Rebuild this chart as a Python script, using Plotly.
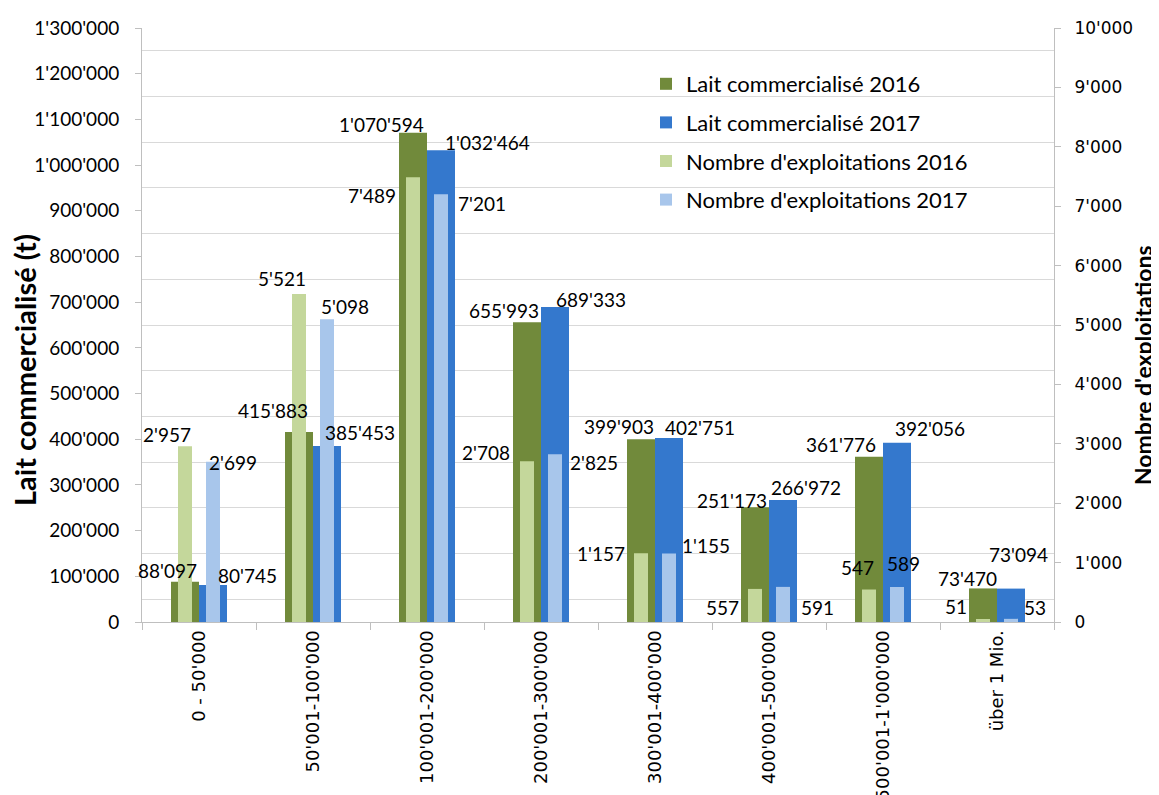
import plotly.graph_objects as go

categories = ["0 - 50'000", "50'001-100'000", "100'001-200'000", "200'001-300'000",
              "300'001-400'000", "400'001-500'000", "500'001-1'000'000", "über 1 Mio."]
milk_2016 = [88097, 415883, 1070594, 655993, 399903, 251173, 361776, 73470]
milk_2017 = [80745, 385453, 1032464, 689333, 402751, 266972, 392056, 73094]
farms_2016 = [2957, 5521, 7489, 2708, 1157, 557, 547, 51]
farms_2017 = [2699, 5098, 7201, 2825, 1155, 591, 589, 53]

names = ["Lait commercialisé 2016", "Lait commercialisé 2017",
         "Nombre d'exploitations 2016", "Nombre d'exploitations 2017"]

# style
C_DG, C_DB, C_LG, C_LB = "#718A3B", "#3478CD", "#C4D79B", "#A8C6EB"
W_D, W_L = 0.2456, 0.1228
LBL_FONT = dict(family="Lato", size=19, color="#000000")

# page offset (browser body margin)
OX, OY = 7, 8
# plot area in screen pixels
PL, PR, PT, PB = 141, 1053, 28, 622
FW, FH = 1159 - 8, 795 - 8

def px(xs):
    return (xs - PL) / (PR - PL)

def py(ys):
    return (PB - ys) / (PB - PT)

# label offsets (pixels) relative to bar centre / bar top
off_m16 = [(-17.5, -11.7), (-26.5, -21), (-32, -8.7), (-23.5, -12), (-22.5, -13), (-23, -7), (-28, -12.7), (-15.5, -10)]
off_m17 = [(34, -10), (32.5, -13), (46, -8), (35.5, -8), (31, -10), (23, -13), (32.5, -14), (7.5, -34.6)]
off_f16 = [(-18, -12), (-17.5, -16), (-41.5, 18), (-41.5, -9), (-40.5, 0.7), (-33, 19), (-12, -22.5), (-27, -12)]
off_f17 = [(20, 1), (18, -13), (41, 9), (38.5, 8), (36.5, -7.4), (34.5, 21), (6.5, -24), (23.5, -11)]

fig = go.Figure()
fig.add_trace(go.Bar(x=categories, y=milk_2016, name=names[0], marker=dict(color=C_DG, line=dict(width=0)),
                     width=W_D, offset=-W_D, yaxis="y", legendgroup="a"))
fig.add_trace(go.Bar(x=categories, y=milk_2017, name=names[1], marker=dict(color=C_DB, line=dict(width=0)),
                     width=W_D, offset=0, yaxis="y", legendgroup="b"))
fig.add_trace(go.Bar(x=categories, y=farms_2016, name=names[2], marker=dict(color=C_LG, line=dict(width=0)),
                     width=W_L, offset=-W_D + (W_D - W_L) / 2, yaxis="y2", legendgroup="c"))
fig.add_trace(go.Bar(x=categories, y=farms_2017, name=names[3], marker=dict(color=C_LB, line=dict(width=0)),
                     width=W_L, offset=(W_D - W_L) / 2, yaxis="y2", legendgroup="d"))

def fmt(v):
    return f"{v:,}".replace(",", "'")

anns = []
for vals, offs, yref, bc in [(milk_2016, off_m16, "y", -14), (milk_2017, off_m17, "y", 14),
                             (farms_2016, off_f16, "y2", -14), (farms_2017, off_f17, "y2", 14)]:
    for c, v, (dx, dy) in zip(categories, vals, offs):
        anns.append(dict(x=c, y=v, xref="x", yref=yref, text=fmt(v), showarrow=False,
                         xanchor="center", yanchor="middle", xshift=bc + dx, yshift=-dy,
                         font=LBL_FONT))

# axis titles
anns.append(dict(text="<b>Lait commercialisé (t)</b>", xref="paper", yref="paper",
                 x=px(24), y=py(370), textangle=-90, showarrow=False,
                 xanchor="center", yanchor="middle", font=dict(family="Lato", size=29, color="#000")))
anns.append(dict(text="<b>Nombre d'exploitations</b>", xref="paper", yref="paper",
                 x=px(1142), y=py(365), textangle=-90, showarrow=False,
                 xanchor="center", yanchor="middle", font=dict(family="Lato", size=23, color="#000")))

fig.update_layout(
    width=FW, height=FH, autosize=False,
    margin=dict(l=PL - OX, r=FW - (PR - OX), t=PT - OY, b=FH - (PB - OY), autoexpand=False),
    paper_bgcolor="white", plot_bgcolor="white",
    barmode="overlay",
    separators=".'",
    showlegend=True,
    legend=dict(x=px(645), y=py(63), xanchor="left", yanchor="top",
                bgcolor="rgba(0,0,0,0)", font=dict(family="Lato", size=22, color="#000"),
                traceorder="grouped", tracegroupgap=7),
    xaxis=dict(type="category", range=[-0.5, 7.5], tickson="boundaries", ticks="outside",
               ticklen=7, tickcolor="#BFBFBF", showline=True, linecolor="#BFBFBF", linewidth=1,
               tickangle=-90, showgrid=False, automargin=False,
               tickfont=dict(family="DejaVu Sans", size=18, color="#000")),
    yaxis=dict(range=[0, 1300000], dtick=100000, tick0=0, tickformat=",d", showgrid=False,
               zeroline=False, showline=True, linecolor="#BFBFBF", ticks="outside", ticklen=6,
               tickcolor="#BFBFBF", ticklabelstandoff=12, automargin=False,
               minor=dict(tick0=50000, dtick=100000, showgrid=True, gridcolor="#D9D9D9", gridwidth=1),
               tickfont=dict(family="Lato", size=19, color="#000")),
    yaxis2=dict(range=[0, 10000], dtick=1000, tick0=0, tickformat=",d", overlaying="y", side="right",
                showgrid=False, zeroline=False, showline=True, linecolor="#BFBFBF", ticks="outside",
                ticklen=6, tickcolor="#BFBFBF", ticklabelstandoff=10, automargin=False,
                tickfont=dict(family="DejaVu Sans", size=17, color="#000")),
    annotations=anns,
)

fig.write_html("out.html")
